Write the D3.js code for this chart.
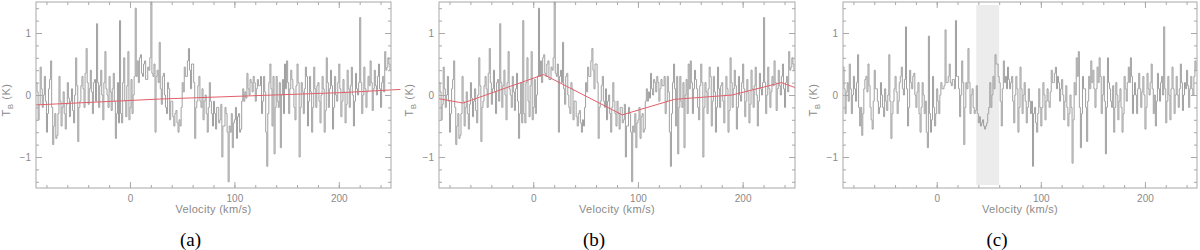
<!DOCTYPE html>
<html>
<head>
<meta charset="utf-8">
<script src="https://cdn.jsdelivr.net/npm/d3@7"></script>
<style>
body { margin: 0; background: #fff; }
text { font-family: "Liberation Sans", Arial, sans-serif; }
</style>
</head>
<body>
<svg width="1200" height="250"></svg>
<script>
// channel left edges, 1 km/s channels from -90 to 250
var channelEdges = d3.range(-90, 250, 1);

// spectrum shown in (a) and (b), K (one row = 20 km/s)
var spectrumAB = [
  0.2,0.05,-0.4,-0.15,0.45,0.1,-0.2,0.0,0.3,-0.1,-0.6,-0.3,0.1,0.25,0.55,-0.2,-0.8,-0.5,-0.3,-0.7,
  -0.65,-0.3,0.3,-0.1,-0.5,-0.2,0.05,-0.3,-0.55,-0.15,0.2,-0.05,-0.35,-0.1,0.1,-0.25,-0.45,0.0,0.6,0.15,
  -0.75,-0.2,-0.1,0.15,0.3,0.1,-0.2,0.35,0.75,0.2,-0.15,0.1,0.4,0.05,-0.3,0.2,0.25,-0.1,1.15,0.2,
  -0.2,0.15,0.4,0.0,-0.4,0.2,0.7,0.1,0.0,-0.2,0.3,0.05,-0.25,0.1,0.35,-0.1,-0.7,-0.3,0.2,-0.45,
  1.2,-0.3,-0.45,0.2,0.6,-0.1,-0.35,0.15,0.7,-0.4,-0.2,0.25,-0.3,0.0,0.3,1.4,0.3,0.55,0.2,0.6,
  0.65,0.35,0.3,0.5,0.55,0.25,0.25,0.45,0.4,0.6,1.5,0.35,0.3,0.5,-0.6,0.3,0.4,0.2,0.85,0.1,
  -0.15,0.3,0.35,0.0,-0.2,-0.3,0.2,0.1,-0.4,-0.1,-0.1,-0.35,-0.5,-0.3,-0.25,-0.45,-0.6,-0.4,-0.5,-0.2,
  0.2,0.05,0.45,0.3,0.3,0.55,0.75,0.4,0.1,0.5,0.5,0.2,-0.7,-0.2,-0.1,0.15,0.3,-0.1,-0.2,0.1,
  -0.4,-0.1,0.0,-0.3,-0.6,-0.2,0.2,-0.1,-0.3,-0.5,-0.1,-0.3,-0.55,-0.2,-0.2,-0.45,-0.4,-0.15,-1.0,-0.5,
  -0.5,-0.2,-0.3,-0.6,-1.4,-0.5,-0.6,-0.3,-0.85,-0.45,-0.4,-0.2,-0.7,-0.35,-0.3,-0.6,-0.55,-0.1,0.1,-0.1,
  0.05,-0.05,0.35,0.1,0.0,0.25,0.2,0.05,0.3,0.2,-0.1,0.1,0.25,0.15,0.15,0.3,-0.3,-0.1,0.3,0.05,
  -0.6,-1.15,-0.3,0.2,0.5,0.1,-0.5,0.3,-0.95,-0.2,0.3,-0.1,-0.2,0.2,-0.85,0.0,0.25,-0.3,0.5,0.1,
  0.55,0.2,-0.3,0.1,0.4,0.25,0.1,-0.2,-0.4,0.15,0.5,0.2,-1.0,-0.2,0.2,0.05,-0.3,0.1,0.45,0.3,
  -0.5,-0.1,0.3,0.05,-0.6,-0.2,0.45,0.1,-0.2,0.15,0.2,-0.1,-0.45,0.0,0.3,0.1,-0.6,-0.25,0.6,0.2,
  -0.2,0.1,0.4,0.15,-0.55,-0.2,0.3,0.0,-0.1,0.2,0.5,0.1,-0.35,-0.1,0.25,0.05,-0.45,-0.15,0.4,0.1,
  -0.2,0.15,0.45,0.0,-0.5,-0.1,0.35,0.1,0.0,0.2,1.25,0.2,-0.3,0.0,0.45,0.1,-0.2,0.05,0.3,0.15,
  0.55,0.2,-0.25,0.1,0.4,0.15,0.0,0.3,0.5,0.1,-0.2,0.2,0.3,0.05,0.7,0.4,0.45,0.6,0.5,0.4
];

// baseline-subtracted spectrum shown in (c), K
var spectrumC = [
  0.45,0.1,-0.3,0.05,0.2,-0.1,0.5,0.1,-0.3,0.0,0.3,0.1,-0.1,0.2,0.65,-0.2,-0.5,-0.2,-0.65,-0.3,
  0.1,0.25,0.3,0.05,0.5,0.15,-0.2,-0.4,-0.55,-0.1,0.4,0.1,0.1,-0.1,-0.3,-0.2,0.2,0.0,-0.2,-0.35,
  0.1,-0.1,-0.25,0.0,0.65,-0.1,-0.7,-0.3,-0.1,0.1,0.3,0.05,-0.3,-0.1,0.2,0.3,0.45,0.1,0.0,0.25,
  1.1,0.1,-0.5,-0.2,0.4,0.2,0.1,0.3,0.35,0.0,-0.2,0.05,0.2,-0.3,-0.6,-0.2,0.2,0.0,-0.3,-0.1,
  -0.6,-0.85,0.95,-0.3,-0.6,-0.4,0.3,-0.2,-0.5,-0.3,0.1,-0.1,-0.3,0.0,0.2,0.1,0.1,0.15,1.05,0.2,
  0.2,0.3,0.5,0.2,0.15,0.25,0.25,0.1,1.2,0.3,0.3,0.1,-0.35,0.0,0.55,0.2,-0.8,-0.2,0.2,0.1,
  0.75,0.2,-0.3,0.0,0.1,-0.2,-0.3,-0.25,0.15,-0.3,-0.45,-0.35,-0.5,-0.45,-0.4,-0.5,-0.55,-0.5,-0.45,-0.3,
  -0.2,0.2,-0.2,0.0,0.3,0.1,0.65,0.5,0.5,0.3,0.2,-0.1,-0.5,0.1,0.55,0.2,0.3,0.1,0.45,0.25,
  0.1,0.2,0.3,-0.1,-0.45,0.0,0.3,0.1,-0.6,-0.2,0.45,0.1,-0.3,0.0,0.2,-0.1,-0.45,-0.2,0.1,-0.1,
  -0.3,-0.1,-1.15,-0.3,-0.2,-0.45,-0.6,-0.3,0.1,-0.2,-0.5,-0.2,0.2,0.0,-0.4,-0.1,0.1,-0.1,-0.2,0.05,
  0.4,0.2,0.2,0.35,0.45,0.1,0.3,0.2,-0.1,0.1,0.25,0.0,-0.4,-0.1,0.15,-0.2,-0.5,-0.3,0.0,-0.2,
  -1.1,-0.4,0.2,0.0,0.6,0.3,0.7,-0.2,-0.85,-0.3,0.3,0.1,0.1,-0.2,-0.75,-0.1,0.3,0.1,0.55,0.2,
  0.4,0.1,-0.2,0.1,0.45,0.2,0.6,0.3,-0.3,0.0,0.3,-0.1,-0.95,-0.2,0.6,0.2,0.1,-0.1,-0.2,0.15,
  -0.6,-0.2,0.2,0.0,-0.4,-0.1,0.1,-0.2,-0.6,-0.3,0.3,0.1,-0.1,0.2,0.45,0.2,0.6,0.3,-0.3,0.0,
  0.2,0.0,-0.3,0.1,0.35,0.1,-0.2,0.05,0.3,0.0,-0.55,-0.2,0.35,0.1,0.0,0.2,0.5,0.1,-0.3,0.0,
  -0.5,-0.1,0.35,0.1,-0.1,0.2,0.3,0.0,1.1,0.1,-0.45,-0.1,0.3,0.0,-0.4,0.1,0.45,0.1,-0.3,0.0,
  0.3,0.0,-0.2,0.1,0.5,0.2,-0.25,0.0,0.2,0.1,0.4,0.15,-0.2,0.1,0.3,0.1,0.0,0.3,0.55,0.4
];

// baseline fits (red lines)
var baseAVel = [-90, 29, 205, 259];
var baseATemp = [-0.16, -0.065, 0.04, 0.09];
var baseBVel = [-90, -67, 10, 85, 135, 190, 237, 250];
var baseBTemp = [-0.06, -0.13, 0.33, -0.32, -0.07, 0.0, 0.2, 0.12];

// velocity window marked in (c)
var windowC = [38, 60];

var xMajor = [0, 100, 200];
var xMinor = d3.range(-80, 251, 20);
var yMajor = [-1, 0, 1];
var yMinor = d3.range(-14, 15, 2).map(function(d) { return d / 10; });

var panels = [
  { left: 36, right: 391, data: spectrumAB, baseV: baseAVel, baseT: baseATemp, tag: "(a)" },
  { left: 439, right: 795, data: spectrumAB, baseV: baseBVel, baseT: baseBTemp, tag: "(b)" },
  { left: 843, right: 1197, data: spectrumC, band: windowC, tag: "(c)" }
];

var svg = d3.select("svg");
var plotTop = 2, plotBottom = 188;
var frameColor = "#a8a8a8", textColor = "#8a8a8a";

panels.forEach(function(p) {
  var x = d3.scaleLinear().domain([-90, 250]).range([p.left, p.right]);
  var y = d3.scaleLinear().domain([-1.5, 1.5]).range([plotBottom, plotTop]);
  var g = svg.append("g");

  if (p.band) {
    g.append("rect")
      .attr("x", x(p.band[0]))
      .attr("width", x(p.band[1]) - x(p.band[0]))
      .attr("y", plotTop + 3)
      .attr("height", plotBottom - plotTop - 6)
      .style("fill", "#ececec");
  }

  // spectrum as histogram steps
  var pts = channelEdges.map(function(v, i) { return [v, p.data[i]]; });
  pts.push([250, p.data[p.data.length - 1]]);
  g.append("path")
    .datum(pts)
    .attr("d", d3.line()
      .x(function(d) { return x(d[0]); })
      .y(function(d) { return y(d[1]); })
      .curve(d3.curveStepAfter))
    .style("fill", "none")
    .style("stroke", "#a0a0a0")
    .style("stroke-width", "1px");

  if (p.baseV) {
    g.append("path")
      .datum(p.baseV.map(function(v, i) { return [v, p.baseT[i]]; }))
      .attr("d", d3.line()
        .x(function(d) { return x(d[0]); })
        .y(function(d) { return y(d[1]); }))
      .style("fill", "none")
      .style("stroke", "#e2606a")
      .style("stroke-width", "1px");
  }

  // axes: ticks pointing inward on all sides
  function styleAxis(sel) {
    sel.select(".domain").remove();
    sel.selectAll("line").style("stroke", frameColor);
    sel.selectAll("text").style("fill", textColor).style("font-size", "10px");
  }
  g.append("g").attr("transform", "translate(0," + plotBottom + ")")
    .call(d3.axisBottom(x).tickValues(xMinor).tickSize(-3).tickFormat(""))
    .call(styleAxis);
  g.append("g").attr("transform", "translate(0," + plotBottom + ")")
    .call(d3.axisBottom(x).tickValues(xMajor).tickSize(-6).tickPadding(7).tickFormat(d3.format("d")))
    .call(styleAxis);
  g.append("g").attr("transform", "translate(0," + plotTop + ")")
    .call(d3.axisTop(x).tickValues(xMinor).tickSize(-3).tickFormat(""))
    .call(styleAxis);
  g.append("g").attr("transform", "translate(0," + plotTop + ")")
    .call(d3.axisTop(x).tickValues(xMajor).tickSize(-6).tickFormat(""))
    .call(styleAxis);
  g.append("g").attr("transform", "translate(" + p.left + ",0)")
    .call(d3.axisLeft(y).tickValues(yMinor).tickSize(-3).tickFormat(""))
    .call(styleAxis);
  g.append("g").attr("transform", "translate(" + p.left + ",0)")
    .call(d3.axisLeft(y).tickValues(yMajor).tickSize(-6).tickPadding(5)
      .tickFormat(function(d) { return d < 0 ? "\u2212" + (-d) : d; }))
    .call(styleAxis);
  g.append("g").attr("transform", "translate(" + p.right + ",0)")
    .call(d3.axisRight(y).tickValues(yMinor).tickSize(-3).tickFormat(""))
    .call(styleAxis);
  g.append("g").attr("transform", "translate(" + p.right + ",0)")
    .call(d3.axisRight(y).tickValues(yMajor).tickSize(-6).tickFormat(""))
    .call(styleAxis);

  g.append("rect")
    .attr("x", p.left).attr("y", plotTop)
    .attr("width", p.right - p.left).attr("height", plotBottom - plotTop)
    .style("fill", "none")
    .style("stroke", frameColor)
    .style("stroke-width", "1px");

  g.append("text")
    .attr("x", (p.left + p.right) / 2)
    .attr("y", 213)
    .attr("text-anchor", "middle")
    .style("fill", textColor)
    .style("font-size", "11px")
    .style("letter-spacing", "0.3px")
    .text("Velocity (km/s)");

  var yl = g.append("text")
    .attr("transform", "translate(" + (p.left - 26) + ",100) rotate(-90)")
    .attr("text-anchor", "middle")
    .style("fill", textColor)
    .style("font-size", "11px")
    .style("letter-spacing", "0.5px");
  yl.append("tspan").text("T");
  yl.append("tspan").attr("dy", 3).style("font-size", "8px").text("B");
  yl.append("tspan").attr("dy", -3).text(" (K)");

  g.append("text")
    .attr("x", (p.left + p.right) / 2 - 23)
    .attr("y", 246)
    .attr("text-anchor", "middle")
    .style("font-family", "'Liberation Serif', 'Times New Roman', serif")
    .style("font-size", "19px")
    .style("fill", "#000")
    .text(p.tag);
});
</script>
</body>
</html>
